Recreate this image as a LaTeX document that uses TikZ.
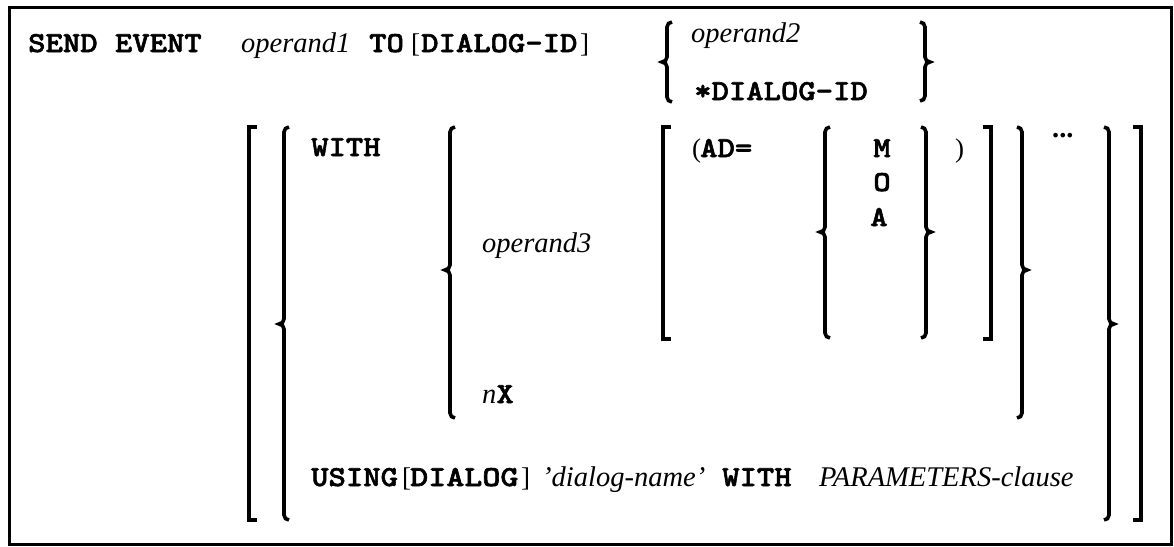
\documentclass[tikz,border=0pt]{standalone}
\usepackage{fontspec}
\newfontfamily\tnr{Liberation Serif}
\newfontfamily\cour{lmmonolt10-bold.otf}[FakeStretch=1.14,FakeBold=2]
\newcommand\kwf{\cour\upshape\fontsize{29}{30}\selectfont}
\newcommand\varf{\tnr\itshape\mdseries\fontsize{28.5}{30}\selectfont}
\newcommand\romf{\tnr\upshape\mdseries\fontsize{27}{30}\selectfont}
\newcommand\SynLBrace[4]{\draw[brk] (#1+5,#2) to[out=180,in=90] (#1,#2+5) -- (#1,#3-5) to[out=-90,in=0] (#1-5,#3) to[out=0,in=90] (#1,#3+5) -- (#1,#4-5) to[out=-90,in=180] (#1+5,#4);}
\newcommand\SynRBrace[4]{\draw[brk] (#1-5,#2) to[out=0,in=90] (#1,#2+5) -- (#1,#3-5) to[out=-90,in=180] (#1+5,#3) to[out=180,in=90] (#1,#3+5) -- (#1,#4-5) to[out=-90,in=0] (#1-5,#4);}
\newcommand\SynLBrack[3]{\draw[brk] (#1+8,#2) -- (#1,#2) -- (#1,#3) -- (#1+8,#3);}
\newcommand\SynRBrack[3]{\draw[brk] (#1-8,#2) -- (#1,#2) -- (#1,#3) -- (#1-8,#3);}
\tikzset{
  brk/.style={line width=3.6pt, line join=miter},
  kw/.style={font=\kwf, inner sep=0pt, anchor=base west},
  var/.style={font=\varf, inner sep=0pt, anchor=base west},
  rom/.style={font=\romf, inner sep=0pt, anchor=base west},
  ctr/.style={font=\kwf, inner sep=0pt, anchor=base},
}
\begin{document}
\begin{tikzpicture}[x=1pt,y=-1pt]
\useasboundingbox (0,0) rectangle (1174,546);
\draw[line width=3pt] (9.5,7.7) rectangle (1171,544.3);
% row 1
\node[kw] (sendevent) at (28,52) {SEND EVENT};
\node[var] (op1) at (241,52) {operand1};
\node[kw] (to) at (369,52) {TO};
\node[rom] (lb1) at (411,52) {[};
\node[kw] (dlgid) at (421,52) {DIALOG-ID};
\node[rom] (rb1) at (580,52) {]};
\SynLBrace{667}{22}{62}{102}
\node[var] (op2) at (691,42) {operand2};
\node[kw] (stardlg) at (694,100) {*DIALOG-ID};
\SynRBrace{925}{22}{62}{101}
% big brackets
\SynLBrack{249}{127}{520}
\SynLBrace{284}{127}{324}{520}
\SynLBrace{450}{127}{270}{418}
\SynLBrack{663}{127}{339}
\SynLBrace{825}{127}{232}{338}
\SynRBrace{926}{127}{232}{338}
\SynRBrack{991}{127}{339}
\SynRBrace{1022}{127}{270}{418}
\SynRBrace{1109}{127}{324}{520}
\SynRBrack{1141}{127}{520}
% row 2 contents
\node[kw] (with1) at (311,156) {WITH};
\node[rom] (lparen) at (692,157) {(};
\node[kw] (adeq) at (700,157) {AD=};
\node[ctr] (m) at (882,157) {M};
\node[ctr] (o) at (882,191) {O};
\node[ctr] (a) at (879,226) {A};
\node[rom] (rparen) at (955,157) {)};
\node[inner sep=0pt, anchor=base west, font=\tnr\bfseries\fontsize{28.5}{30}\selectfont] (dots) at (1052,137) {...};
\node[var] (op3) at (482,252) {operand3};
\node[var] (nx) at (482,403) {n{\kwf X}};
% using line
\node[kw] (using) at (311,486) {USING};
\node[rom] (lb2) at (402,486) {[};
\node[kw] (dlg2) at (410,486) {\scalebox{1.04}[1]{DIALOG}};
\node[rom] (rb2) at (521,486) {]};
\node[var] (dname) at (542,486) {’dialog-name’};
\node[kw] (with2) at (722,486) {WITH};
\node[var] (params) at (819,486) {PARAMETERS-clause};
\end{tikzpicture}
\end{document}
